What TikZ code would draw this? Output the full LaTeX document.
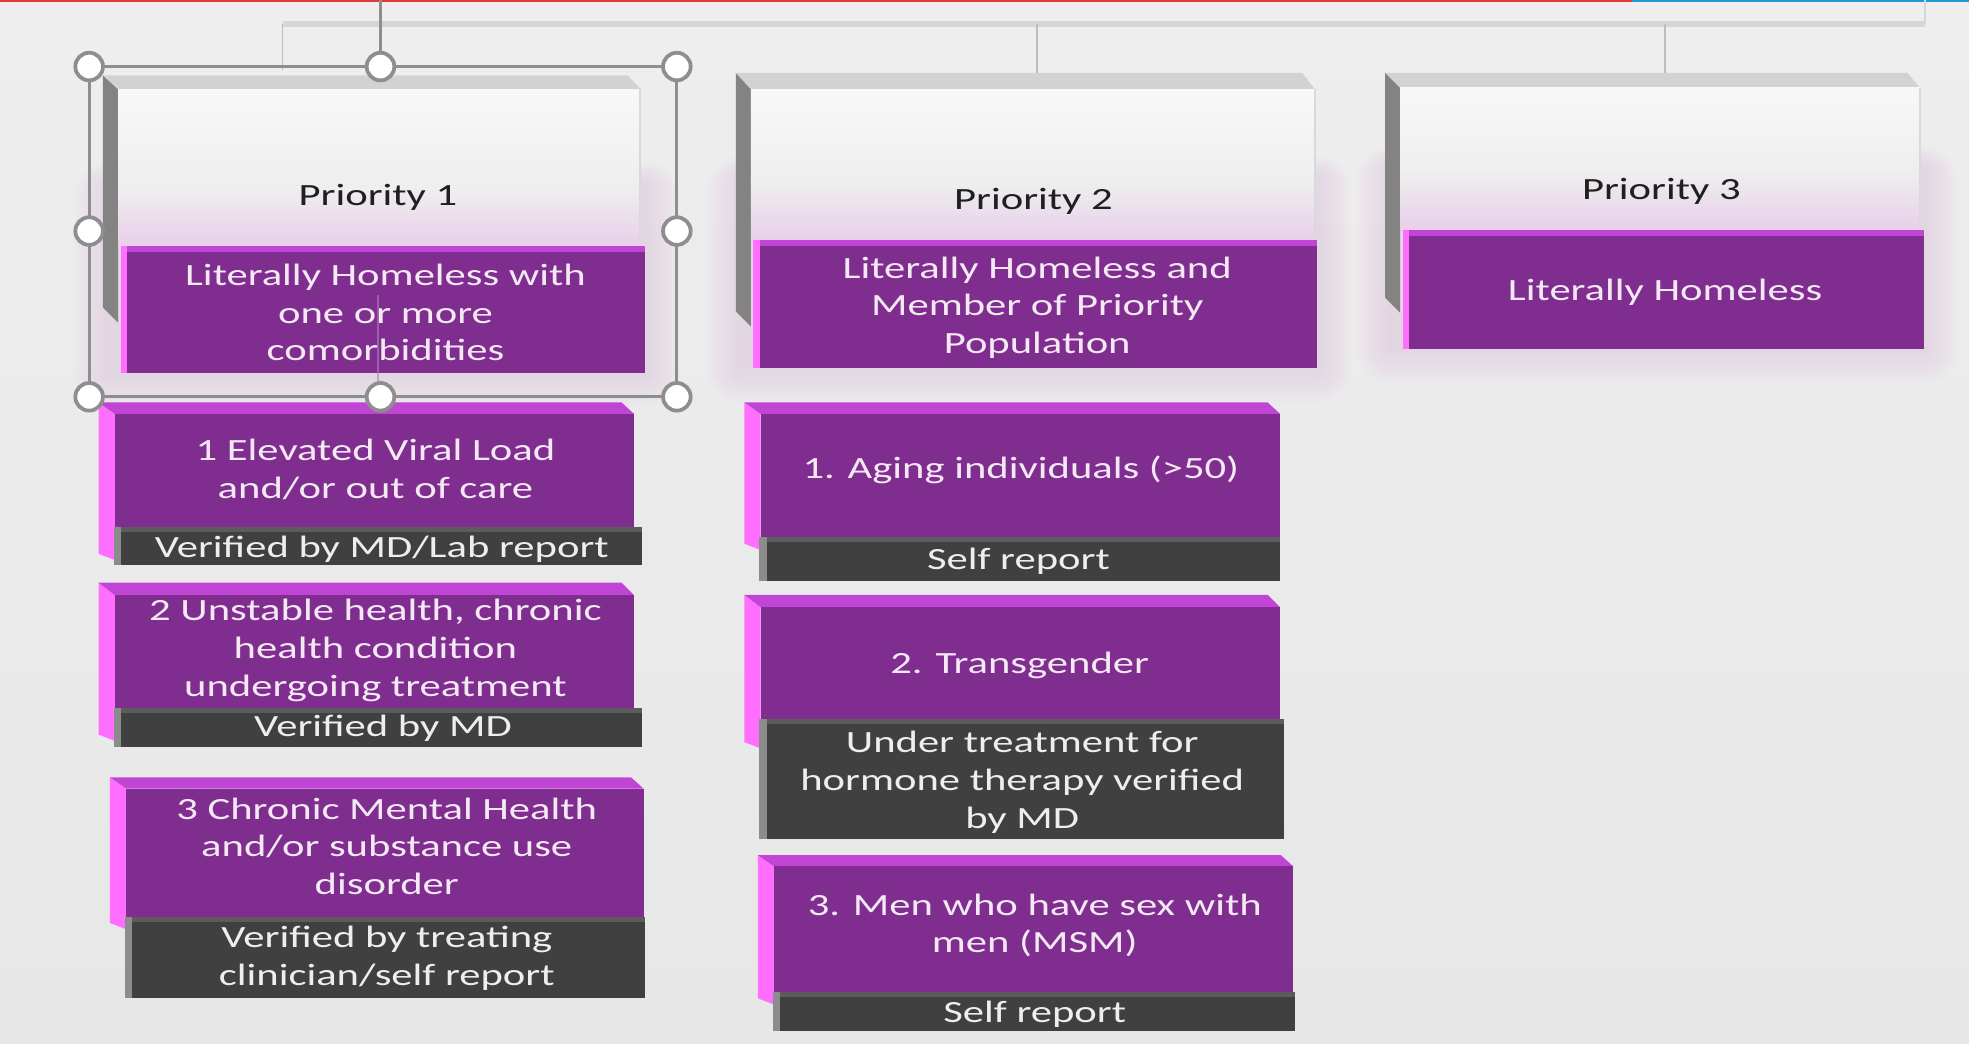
\documentclass[tikz,border=0pt]{standalone}
\usepackage{fontspec}
\setmainfont[FakeStretch=1.38]{Carlito}
\definecolor{bgc}{HTML}{EEEEEE}
\definecolor{bgb}{HTML}{E7E7E7}
\definecolor{purp}{HTML}{7F2D8E}
\definecolor{magtop}{HTML}{C045D4}
\definecolor{magside}{HTML}{FF6EFF}
\definecolor{darkstrip}{HTML}{404040}
\definecolor{stripedge}{HTML}{5C5C5C}
\definecolor{stripside}{HTML}{8C8C8C}
\definecolor{bevelgray}{HTML}{D2D2D2}
\definecolor{sidegray}{HTML}{838383}
\definecolor{facetop}{HTML}{F8F8F8}
\definecolor{facemid}{HTML}{EEEEEE}
\definecolor{facebot}{HTML}{E8CFEA}
\definecolor{selgray}{HTML}{8E8E8E}
\definecolor{linegray}{HTML}{BDBDBD}
\definecolor{bargray}{HTML}{D6D6D6}
\definecolor{glow}{HTML}{D7A9DE}
\definecolor{ptext}{HTML}{F4E8F4}
\definecolor{stext}{HTML}{EEEEEE}
\definecolor{topred}{HTML}{E03A3A}
\definecolor{topblue}{HTML}{1E9BD7}

% #1 L, #2 T, #3 F, #4 R, #5 S, #6 E, #7 SR, #8 SB, #9 name
\newcommand{\subbox}[9]{%
 \fill[magside] (#1,#2) -- ({#1+13},#3) -- ({#1+13},{#8+5}) -- (#1,#8) -- cycle;
 \fill[magtop] (#1,#2) -- ({#4-10},#2) -- (#4,#3) -- ({#1+13},#3) -- cycle;
 \fill[purp] ({#1+13},#3) rectangle (#4,#5);
 \fill[stripside] ({#1+12},#5) rectangle ({#1+18},#6);
 \fill[darkstrip] ({#1+18},#5) rectangle (#7,#6);
 \fill[stripedge] ({#1+18},#5) rectangle (#7,{#5+4});
 \coordinate (#9f) at ({(#1+13+#4)/2},{(#3+#5)/2+1});
 \coordinate (#9s) at ({(#1+18+#7)/2},{(#5+#6)/2+1});
}
% top box: #1 L, #2 T, #3 F, #4 R, #5 P, #6 PB, #7 PR, #8 side bottom, #9 name
\newcommand{\topbox}[9]{%
 \foreach \d in {3,6,...,27}
   \fill[glow,opacity=0.035,rounded corners={\d pt}] ({#1+4-\d},{#5-50-0.6*\d}) rectangle ({#7+\d},{#6+\d});
 \fill[sidegray] (#1,#2) -- ({#1+12},#3) -- ({#1+12},{#8+12}) -- (#1,#8) -- cycle;
 \fill[bevelgray] (#1,#2) -- ({#4-10},#2) -- (#4,#3) -- ({#1+12},#3) -- cycle;
 \shade[top color=facetop, bottom color=facemid] ({#1+12},#3) rectangle (#4,{#5-45});
 \shade[top color=facemid, bottom color=facebot] ({#1+12},{#5-45.5}) rectangle (#4,#5);
 \draw[black!15, line width=1.5] (#4,#3) -- (#4,#5);
 \fill[purp] ({#1+14},#5) rectangle (#7,#6);
 \fill[magtop] ({#1+14},#5) rectangle (#7,{#5+5});
 \fill[magside] ({#1+14},#5) rectangle ({#1+19},#6);
 \coordinate (#9h) at ({(#1+12+#4)/2},{(#3+#5)/2});
}

\tikzset{
  ftext/.style={text=ptext, align=center, font=\fontsize{24.6}{30}\selectfont, inner sep=0pt},
  stxt/.style={text=stext, align=center, font=\fontsize{24.6}{30}\selectfont, inner sep=0pt},
  htext/.style={text=black!88, align=center, font=\fontsize{24.6}{30}\selectfont, inner sep=0pt},
  handle/.style={circle, draw=selgray, line width=3pt, fill=white, minimum size=22pt, inner sep=0pt},
  conn/.style={linegray, line width=1.5pt},
}

\begin{document}
\begin{tikzpicture}[x=1pt,y=-1pt]
\useasboundingbox (0,0) rectangle (1568,830.6);
\shade[top color=bgc, bottom color=bgb] (0,0) rectangle (1568,830.6);
\fill[topred] (0,0) rectangle (1300,1.8);
\fill[topblue] (1300,0) rectangle (1568,1.8);

% hierarchy connectors
\coordinate (barL) at (225,19);
\coordinate (barM) at (826,19);
\coordinate (barN) at (1326,19);
\coordinate (barR) at (1533,19);
\coordinate (topR) at (1533,0);
\coordinate (d1) at (225,56);
\coordinate (d2) at (826,59);
\coordinate (d3) at (1326,59);
\draw[bargray, line width=4.5pt] (barL) -- (barR);
\draw[conn] (barL) -- (d1);
\draw[conn] (barM) -- (d2);
\draw[conn] (barN) -- (d3);
\draw[bargray, line width=2pt] (topR) -- (barR);

% top priority boxes
\topbox{82}{60}{71}{510}{196}{297}{514}{245}{p1}
\topbox{586}{58}{71}{1047}{191}{293}{1049}{248}{p2}
\topbox{1103}{58}{70}{1529}{183}{278}{1532}{237}{p3}

\node[htext] (t1) at (301,157) {Priority 1};
\node[htext] (t2) at (823,160) {Priority 2};
\node[htext] (t3) at (1323,152) {Priority 3};

\draw[purp!60!white, line width=1.5pt, opacity=0.6] (301,235) -- (301,312);

\node[ftext] (u1) at (307,249) {Literally Homeless with\\one or more\\comorbidities};
\node[ftext] (u2) at (826,245) {Literally Homeless and\\Member of Priority\\Population};
\node[ftext] (u3) at (1326,233) {Literally Homeless};

% sub boxes column 1
\subbox{78.5}{320.5}{329.7}{505}{420}{450}{511}{441}{a}
\subbox{78.5}{464}{474}{505}{564}{595}{511}{585}{b}
\subbox{87.5}{619}{628}{512.5}{730}{795}{514}{735}{c}
% column 2
\subbox{592.8}{320.5}{329.7}{1019.5}{428}{462.5}{1019.5}{433}{d}
\subbox{592.8}{473.7}{483.6}{1019.5}{572.5}{668}{1022.3}{591}{e}
\subbox{603.5}{681}{690}{1030}{790}{821}{1031}{795}{f}

\node[ftext] (a1) at (299,374) {1 Elevated Viral Load\\and/or out of care};
\node[stxt] (a2) at (304,437) {Verified by MD/Lab report};
\node[ftext] (b1) at (299,518) {2 Unstable health, chronic\\health condition\\undergoing treatment};
\node[stxt] (b2) at (305,580) {Verified by MD};
\node[ftext] (c1) at (308,674) {3 Chronic Mental Health\\and/or substance use\\disorder};
\node[stxt] (c2) at (308,763) {Verified by treating\\clinician/self report};

\node[ftext] (d1t) at (813,374) {1. Aging individuals (>50)};
\node[stxt] (d2t) at (811,447) {Self report};
\node[ftext] (e1) at (812,530) {2. Transgender};
\node[stxt] (e2) at (814,623) {Under treatment for\\hormone therapy verified\\by MD};
\node[ftext] (f1) at (824,737) {3. Men who have sex with\\men (MSM)};
\node[stxt] (f2) at (824,808) {Self report};

% selection frame with handles
\coordinate (s1) at (71,53);
\coordinate (s2) at (539,316);
\draw[selgray, line width=2.5pt] (s1) rectangle (s2);
\node[handle] (h1) at (71,53) {};
\node[handle] (h2) at (303,53) {};
\node[handle] (h3) at (539,53) {};
\node[handle] (h4) at (71,184) {};
\node[handle] (h5) at (539,184) {};
\node[handle] (h6) at (71,316) {};
\node[handle] (h7) at (303,316) {};
\node[handle] (h8) at (539,316) {};
\coordinate (topin) at (303,0);
\draw[selgray, line width=2pt] (topin) -- (h2);
\end{tikzpicture}
\end{document}
